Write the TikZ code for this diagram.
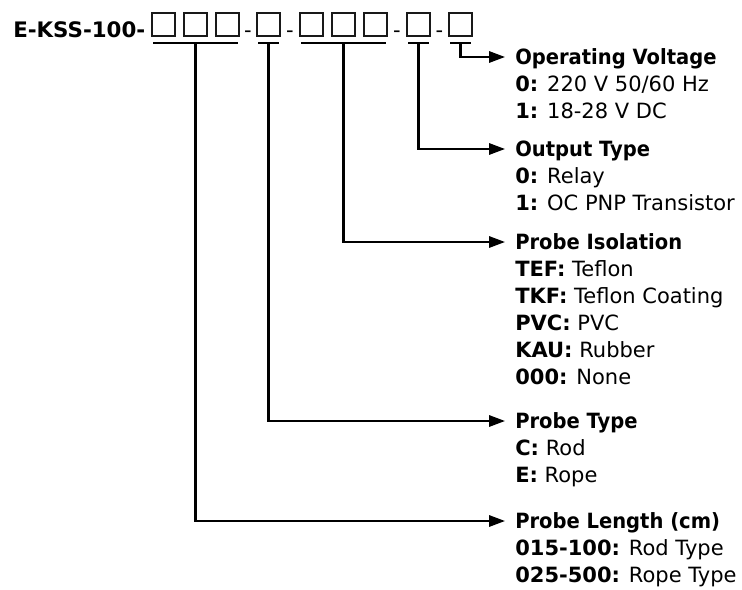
\documentclass[tikz,border=0pt]{standalone}
\usepackage{fontspec}
\setmainfont{DejaVu Sans}
\newfontfamily\headfont{DejaVu Sans}[FakeStretch=0.93]
\usetikzlibrary{arrows.meta,positioning,calc}
\newcommand{\codesize}{\fontsize{15.75pt}{19.875pt}\selectfont}
\tikzset{
  >={Triangle[length=12pt,width=8.5pt]},
  slot/.style={draw=black!90,line width=.9pt,minimum size=17.25pt,inner sep=0pt},
  bar/.style={draw=black,line width=1.6pt},
  lead/.style={->,draw=black,line width=1.6pt,shorten >=7.5pt},
  hyph/.style={font=\codesize,inner sep=0pt,anchor=base},
  head/.style={font=\codesize\headfont\bfseries,inner sep=0pt,text height=11.5pt,text depth=0pt,anchor=west},
  entry/.style={font=\codesize,inner sep=0pt,text height=11.5pt,text depth=0pt},
}

\begin{document}
\begin{tikzpicture}[x=.75pt,y=-.75pt]
  \useasboundingbox (0,0) rectangle (742,589);

  % order code with its slots
  \node[font=\fontsize{16pt}{20pt}\selectfont\bfseries,inner sep=0pt,anchor=base west] (code) at (13,37) {E-KSS-100-};
  \foreach \n/\x in {1/163.5,2/195.5,3/227.5,4/268.5,5/311.5,6/343.5,7/375.5,8/418.5,9/460.5}
    \node[slot] (s\n) at (\x,24.5) {};
  \foreach \a/\b [count=\i] in {3/4,4/5,7/8,8/9}{
    \coordinate (m\i) at ($(s\a.east)!.5!(s\b.west)$);
    \node[hyph] (d\i) at (m\i |- code.base) {-};
  }

  % groups under the slots
  \foreach \a/\b [count=\i] in {1/3,4/4,5/7,8/8,9/9}{
    \draw[bar] ($(s\a.south west)+(2,6)$) -- ($(s\b.south east)+(-2,6)$);
    \coordinate (u\i) at ($(s\a.south)!.5!(s\b.south)+(0,6)$);
  }

  % legend
  \node[head] (ov0) at (515,57) {Operating Voltage};
  \node[entry,below right=8.375pt and 0pt of ov0.south west] (ov1) {\textbf{0:} 220 V 50/60 Hz};
  \node[entry,below right=8.375pt and 0pt of ov1.south west] (ov2) {\textbf{1:} 18-28 V DC};

  \node[head] (ot0) at (515,149) {Output Type};
  \node[entry,below right=8.375pt and 0pt of ot0.south west] (ot1) {\textbf{0:} Relay};
  \node[entry,below right=8.375pt and 0pt of ot1.south west] (ot2) {\textbf{1:} OC PNP Transistor};

  \node[head] (pi0) at (515,242) {Probe Isolation};
  \node[entry,below right=8.375pt and 0pt of pi0.south west] (pi1) {\textbf{TEF:} Teflon};
  \node[entry,below right=8.375pt and 0pt of pi1.south west] (pi2) {\textbf{TKF:} Teflon Coating};
  \node[entry,below right=8.375pt and 0pt of pi2.south west] (pi3) {\textbf{PVC:} PVC};
  \node[entry,below right=8.375pt and 0pt of pi3.south west] (pi4) {\textbf{KAU:} Rubber};
  \node[entry,below right=8.375pt and 0pt of pi4.south west] (pi5) {\textbf{000:} None};

  \node[head] (pt0) at (515,421) {Probe Type};
  \node[entry,below right=8.375pt and 0pt of pt0.south west] (pt1) {\textbf{C:} Rod};
  \node[entry,below right=8.375pt and 0pt of pt1.south west] (pt2) {\textbf{E:} Rope};

  \node[head] (pl0) at (515,521) {Probe Length (cm)};
  \node[entry,below right=8.375pt and 0pt of pl0.south west] (pl1) {\textbf{015-100:} Rod Type};
  \node[entry,below right=8.375pt and 0pt of pl1.south west] (pl2) {\textbf{025-500:} Rope Type};

  % leaders
  \draw[lead] (u1) |- (pl0);
  \draw[lead] (u2) |- (pt0);
  \draw[lead] (u3) |- (pi0);
  \draw[lead] (u4) |- (ot0);
  \draw[lead] (u5) |- (ov0);
\end{tikzpicture}
\end{document}
